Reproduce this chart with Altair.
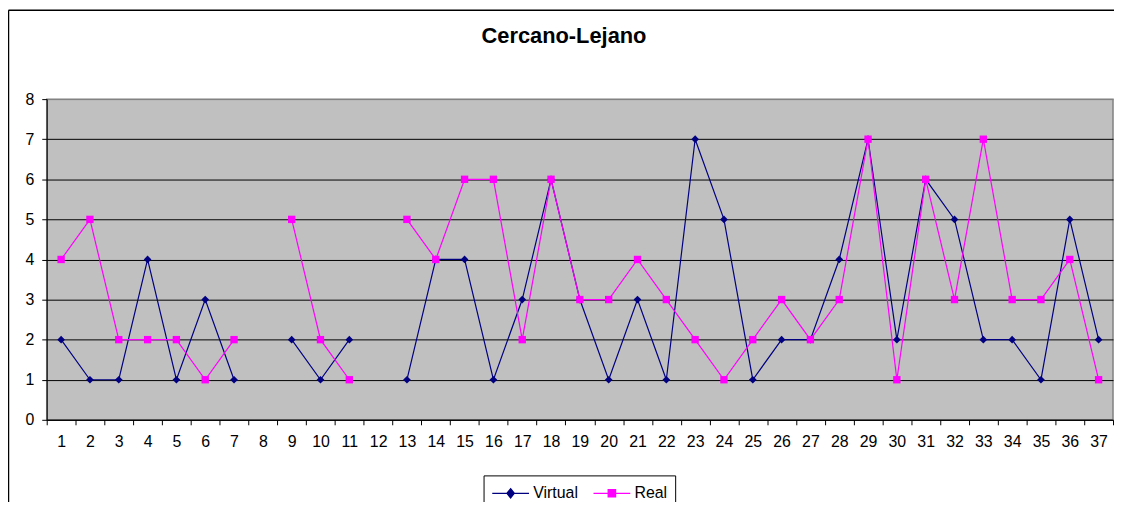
import altair as alt
import pandas as pd

idx = list(range(1, 38))
virtual = [2, 1, 1, 4, 1, 3, 1, None, 2, 1, 2, None, 1, 4, 4, 1, 3, 6, 3, 1,
           3, 1, 7, 5, 1, 2, 2, 4, 7, 2, 6, 5, 2, 2, 1, 5, 2]
real = [4, 5, 2, 2, 2, 1, 2, None, 5, 2, 1, None, 5, 4, 6, 6, 2, 6, 3, 3,
        4, 3, 2, 1, 2, 3, 2, 3, 7, 1, 6, 3, 7, 3, 3, 4, 1]
series = ["Virtual", "Real"]
colors = ["#000080", "#FF00FF"]

rows = []
for name, vals in zip(series, [virtual, real]):
    for i, v in zip(idx, vals):
        rows.append({"serie": name, "n": i, "valor": v})
df = pd.DataFrame(rows)

FONT = "Liberation Sans"

x_enc = alt.X("n:O", bandPosition=0.5,
              scale=alt.Scale(type="band", domain=idx, paddingInner=0, paddingOuter=0),
              axis=alt.Axis(title=None, labelAngle=0, tickBand="extent", tickSize=5,
                            domainColor="black", tickColor="black", labelPadding=9,
                            labelFontSize=16, labelFont=FONT, labelColor="black"))
y_enc = alt.Y("valor:Q",
              scale=alt.Scale(domain=[0, 8], nice=False, zero=True),
              axis=alt.Axis(title=None, values=list(range(0, 9)), tickSize=5,
                            domainColor="black", tickColor="black",
                            grid=True,
                            gridColor={"condition": {"test": "datum.value === 8", "value": "#808080"},
                                       "value": "black"},
                            gridWidth=1, labelPadding=8, labelFontSize=16,
                            labelFont=FONT, labelColor="black"))

base = alt.Chart(df)

layers = []
for name, col, shp, sz in [("Virtual", colors[0], "diamond", 60), ("Real", colors[1], "square", 55)]:
    sub = base.transform_filter(alt.datum.serie == name)
    layers.append(sub.mark_line(color=col, strokeWidth=1.2,
                                invalid="break-paths-show-domains").encode(x=x_enc, y=y_enc))
    layers.append(sub.mark_point(color=col, shape=shp, size=sz, filled=True, opacity=1)
                  .transform_filter("isValid(datum.valor)")
                  .encode(x=x_enc, y=y_enc))

# legend symbols: a line 4 units long with the marker at its middle (unit = 9.25px)
paths = ["M-1,0H3M1,-0.5L1.4,0L1,0.5L0.6,0Z",
         "M-1,0H3M0.6,-0.4H1.4V0.4H0.6Z"]
leg = alt.Legend(title=None, orient="none", legendX=440, legendY=379, direction="horizontal",
                 symbolOpacity=1, symbolStrokeWidth=1.3, symbolSize=342,
                 labelFontSize=16, labelFont=FONT, labelColor="black", labelOffset=22,
                 columnPadding=12, padding=8, strokeColor="black", fillColor="white")
legend_layer = base.mark_point(opacity=0, filled=True).encode(
    x=x_enc, y=y_enc,
    fill=alt.Fill("serie:N", scale=alt.Scale(domain=series, range=colors), legend=leg, sort=series),
    stroke=alt.Stroke("serie:N", scale=alt.Scale(domain=series, range=colors), legend=leg, sort=series),
    shape=alt.Shape("serie:N", scale=alt.Scale(domain=series, range=paths), legend=leg, sort=series),
)

frame_data = alt.Data(values=[{"k": 1}])
frame_left = alt.Chart(frame_data).mark_rule(color="black", strokeWidth=1.5).encode(
    x=alt.value(-38.5), y=alt.value(-89.5), y2=alt.value(420))
frame_top = alt.Chart(frame_data).mark_rule(color="black", strokeWidth=1.5).encode(
    x=alt.value(-38.5), x2=alt.value(1090), y=alt.value(-89.5))

chart = alt.layer(frame_left, frame_top, *layers, legend_layer).properties(
    width=1074, height=323,
    title=alt.TitleParams("Cercano-Lejano", anchor="middle", fontSize=22, fontWeight="bold",
                          font=FONT, color="black", offset=-56, baseline="alphabetic", dx=-16),
    padding={"left": 39, "top": 90, "right": 1, "bottom": 81},
    autosize=alt.AutoSizeParams(type="none"),
    background="white",
).configure_view(fill="#C0C0C0", stroke="#808080", strokeWidth=1.5)

chart.save("out.html", embed_options={"renderer": "svg", "actions": False})
